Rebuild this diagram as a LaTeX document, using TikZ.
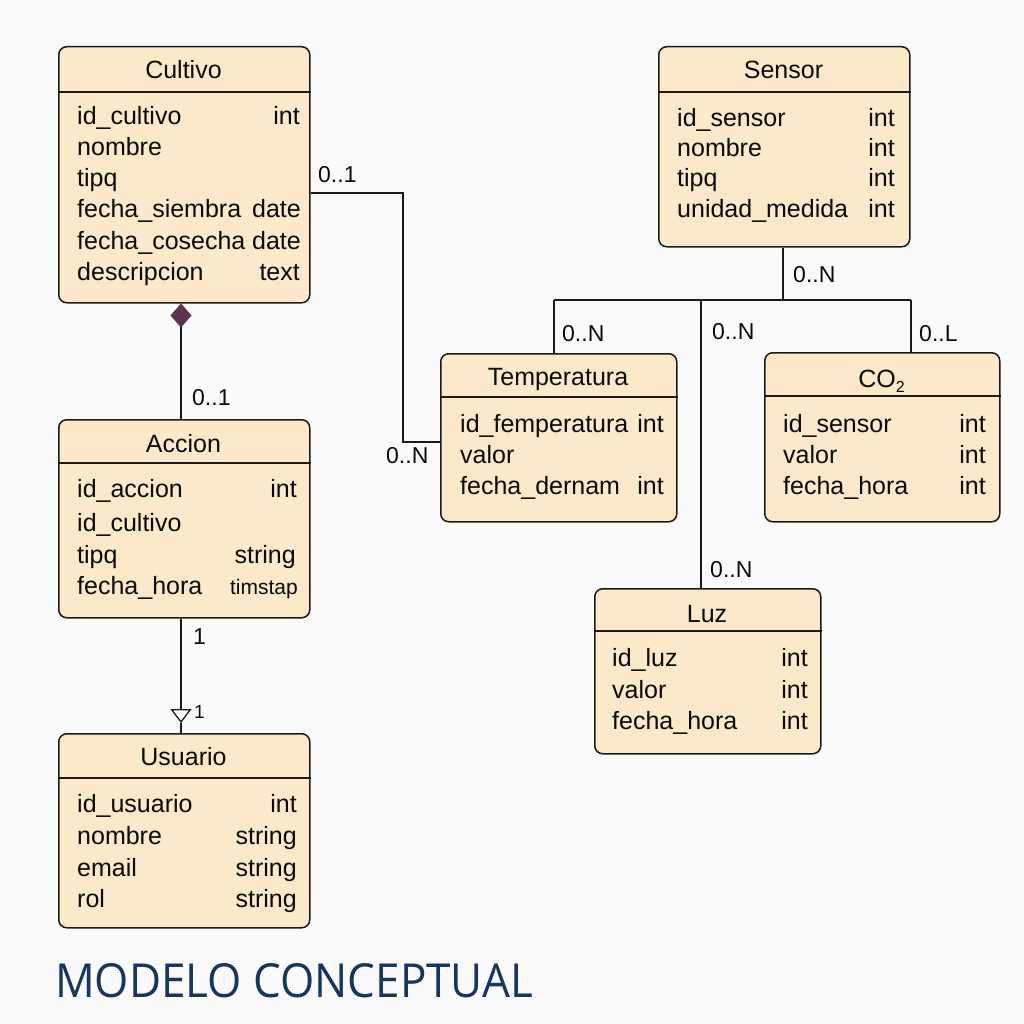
\documentclass[tikz,border=0pt]{standalone}
\usepackage{fontspec}
\setmainfont{Liberation Sans}
\newfontfamily\titlefont{Open Sans}
\usetikzlibrary{arrows.meta}
\definecolor{bgcol}{HTML}{FAFAFA}
\definecolor{boxfill}{HTML}{FCE9CA}
\definecolor{linecol}{HTML}{1A1A1A}
\definecolor{plum}{HTML}{5A3350}
\definecolor{navy}{HTML}{16365F}
\definecolor{txt}{HTML}{0A0A0A}
\newcommand\fs[1]{\fontsize{#1}{#1}\selectfont}
\tikzset{
  ent/.style={draw=linecol, fill=boxfill, rounded corners=8pt, line width=1.5pt, inner sep=0pt},
  hdr/.style={draw=linecol, line width=1.5pt},
  lbl/.style={font=\fs{25}, inner sep=0pt, text=txt},
  card/.style={font=\fs{23}, inner sep=0pt, text=txt},
  conn/.style={draw=linecol, line width=1.5pt}
}
\newcommand\entity[8]{%
  \node[ent, anchor=north west, minimum width={(#4-#2)*1pt}, minimum height={(#5-#3)*1pt}] (#1) at (#2,#3) {};
  \draw[hdr] (#1.west |- 0,#6) -- (#1.east |- 0,#6);
  \node[lbl, anchor=base] (#1-title) at ({(#2+#4)/2},#7) {#8};
}
\newcommand\attr[6]{%
  \node[lbl, anchor=base west] (#1-n) at (#2,#4) {#5};
  \node[lbl, anchor=base east] (#1-t) at (#3,#4) {#6};
}
\begin{document}
\begin{tikzpicture}[x=1pt,y=-1pt]
\fill[bgcol] (0,0) rectangle (1024,1024);
\useasboundingbox (0,0) rectangle (1024,1024);

% ---------- entities ----------
\entity{cultivo}{58}{46}{309}{302}{92}{79}{Cultivo}
\attr{c1}{77}{300}{125}{id\_cultivo}{int}
\attr{c2}{77}{300}{156}{nombre}{}
\attr{c3}{77}{300}{187}{tipq}{}
\attr{c4}{77}{301}{218}{fecha\_siembra}{date}
\attr{c5}{77}{301}{249}{fecha\_cosecha}{date}
\attr{c6}{77}{300}{280}{descripcion}{text}

\entity{accion}{58}{419}{309}{617}{463}{452}{Accion}
\attr{a1}{77}{297}{497}{id\_accion}{int}
\attr{a2}{77}{297}{531}{id\_cultivo}{}
\attr{a3}{77}{296}{563}{tipq}{string}
\node[lbl, anchor=base west] (a4-n) at (77,594) {fecha\_hora};
\node[lbl, font=\fs{21}, anchor=base east] (a4-t) at (298,594) {timstap};

\entity{usuario}{58}{733}{309}{927}{778}{765}{Usuario}
\attr{u1}{77}{297}{812}{id\_usuario}{int}
\attr{u2}{77}{297}{844}{nombre}{string}
\attr{u3}{77}{297}{876}{email}{string}
\attr{u4}{77}{297}{907}{rol}{string}

\entity{sensor}{658}{46}{909}{246}{92}{79}{Sensor}
\attr{s1}{677}{895}{127}{id\_sensor}{int}
\attr{s2}{677}{895}{157}{nombre}{int}
\attr{s3}{677}{895}{187}{tipq}{int}
\attr{s4}{677}{895}{218}{unidad\_medida}{int}

\entity{temp}{440}{353}{676}{521}{397}{385}{Temperatura}
\attr{t1}{460}{664}{432}{id\_femperatura}{int}
\attr{t2}{460}{664}{463}{valor}{}
\attr{t3}{460}{664}{494}{fecha\_dernam}{int}

\entity{co2}{764}{352}{999}{521}{396}{387}{CO\raisebox{-0.22em}{\fs{16}2}}
\attr{k1}{783}{986}{432}{id\_sensor}{int}
\attr{k2}{783}{986}{463}{valor}{int}
\attr{k3}{783}{986}{494}{fecha\_hora}{int}

\entity{luz}{594}{588}{820}{753}{631}{622}{Luz}
\attr{l1}{612}{808}{666}{id\_luz}{int}
\attr{l2}{612}{808}{698}{valor}{int}
\attr{l3}{612}{808}{729}{fecha\_hora}{int}

% ---------- connectors ----------
% Cultivo -- Temperatura
\coordinate (bend1) at (403,193);
\draw[conn] (cultivo.east |- bend1) -- (bend1) |- (temp.west |- 0,442);
\node[card, anchor=base west] (lc1) at (318,183) {0..1};
\node[card, anchor=base west] (lc2) at (386,463) {0..N};

% Cultivo -- Accion (composition)
\draw[conn, {Diamond[length=24pt,width=21pt,fill=plum,color=plum]}-] (181,0 |- cultivo.south) -- (181,0 |- accion.north);
\node[card, anchor=base west] (la1) at (192,405) {0..1};

% Accion -- Usuario
\coordinate (tri) at (181,723);
\draw[conn, -{Triangle[open,length=14pt,width=21pt,fill=white,line width=1.3pt]}] (181,0 |- accion.south) -- (tri);
\draw[conn] (tri) -- (181,0 |- usuario.north);
\node[card, anchor=base west] (lu1) at (193,644) {1};
\node[card, font=\fs{19}, anchor=base west] (lu2) at (194,718) {1};

% Sensor bus
\coordinate (busS) at (783,300);
\coordinate (busL) at (554,300);
\coordinate (busM) at (701,300);
\coordinate (busR) at (911,300);
\draw[conn] (783,0 |- sensor.south) -- (busS);
\draw[conn] (busL) -- (busR);
\draw[conn] (busL) -- (busL |- temp.north);
\draw[conn] (busM) -- (busM |- luz.north);
\draw[conn] (busR) -- (busR |- co2.north);
\node[card, anchor=base west] (ls1) at (793,282) {0..N};
\node[card, anchor=base west] (ls2) at (562,341) {0..N};
\node[card, anchor=base west] (ls3) at (712,339) {0..N};
\node[card, anchor=base west] (ls4) at (919,341) {0..L};
\node[card, anchor=base west] (ls5) at (710,577) {0..N};

% ---------- title ----------
\node[inner sep=0pt, anchor=base west, text=navy] (title) at (55,997)
  {\resizebox{478pt}{34pt}{\titlefont MODELO CONCEPTUAL}};
\end{tikzpicture}
\end{document}
